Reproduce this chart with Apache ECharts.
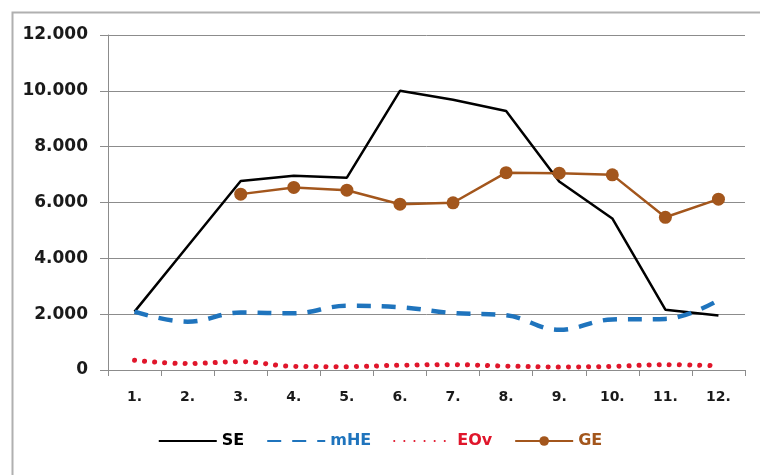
<!DOCTYPE html>
<html>
<head>
<meta charset="utf-8">
<script src="https://cdn.jsdelivr.net/npm/echarts@6/dist/echarts.min.js"></script>
<style>html,body{margin:0;padding:0;background:#fff}#c{width:760px;height:475px}</style>
</head>
<body>
<div id="c"></div>
<script>
var categories = ['1.', '2.', '3.', '4.', '5.', '6.', '7.', '8.', '9.', '10.', '11.', '12.'];
var seValues  = [2090, 4430, 6770, 6960, 6890, 10000, 9680, 9280, 6750, 5430, 2160, 1950];
var mheValues = [2090, 1730, 2060, 2030, 2300, 2250, 2040, 1960, 1440, 1810, 1830, 2500];
var eovValues = [350, 230, 300, 130, 120, 170, 190, 140, 110, 130, 190, 150];
var geValues  = [null, null, 6300, 6540, 6440, 5940, 5990, 7070, 7050, 6990, 5470, 6120];
var yTicks = [0, 2000, 4000, 6000, 8000, 10000, 12000];

var chart = echarts.init(document.getElementById('c'), null, {renderer: 'canvas'});
var font = 'DejaVu Sans';
function fmt(v) {
  if (v === 0) return '0';
  var s = String(v);
  return s.slice(0, s.length - 3) + '.' + s.slice(s.length - 3);
}
var hidden = {color: 'rgba(0,0,0,0)', borderWidth: 0};
chart.setOption({
  animation: false,
  backgroundColor: '#fff',
  graphic: [{
    type: 'rect', left: 10, top: 10, silent: true,
    shape: {width: 760, height: 480},
    style: {fill: 'none', stroke: '#b0b0b0', lineWidth: 2}
  }],
  grid: {left: 108, right: 15, top: 35, bottom: 105},
  legend: {
    bottom: 21, left: 'center',
    itemWidth: 58, itemHeight: 12, itemGap: 22,
    textStyle: {fontFamily: font, fontSize: 16, fontWeight: 'bold'},
    data: [
      {name: 'SE', textStyle: {color: '#000'}, itemStyle: hidden},
      {name: 'mHE', textStyle: {color: '#1f74bd'}, itemStyle: hidden},
      {name: 'EOv', textStyle: {color: '#e0162b'}, itemStyle: hidden},
      {name: 'GE', textStyle: {color: '#a3561c'}}
    ]
  },
  xAxis: {
    type: 'category', data: categories, boundaryGap: true,
    axisLine: {lineStyle: {color: '#8c8c8c', width: 1}},
    axisTick: {show: true, length: 6, lineStyle: {color: '#8c8c8c'}},
    axisLabel: {margin: 20, color: '#1a1a1a', fontFamily: font, fontSize: 14, fontWeight: 'bold'}
  },
  yAxis: {
    type: 'value', min: yTicks[0], max: yTicks[yTicks.length - 1], interval: 2000,
    axisLine: {show: true, lineStyle: {color: '#8c8c8c', width: 1}},
    axisTick: {show: true, length: 8, inside: false, lineStyle: {color: '#8c8c8c'}},
    splitLine: {lineStyle: {color: '#8c8c8c', width: 1}},
    axisLabel: {margin: 20, color: '#1a1a1a', fontFamily: font, fontSize: 17, fontWeight: 'bold', formatter: fmt}
  },
  series: [
    {name: 'SE', type: 'line', data: seValues, showSymbol: false, symbol: 'none',
     lineStyle: {color: '#000', width: 2.5}, itemStyle: {color: '#000'}},
    {name: 'mHE', type: 'line', data: mheValues, smooth: 0.4, showSymbol: false, symbol: 'none',
     lineStyle: {color: '#1f74bd', width: 4.5, type: [14, 11]}, itemStyle: {color: '#1f74bd'}},
    {name: 'EOv', type: 'line', data: eovValues, smooth: 0.4, showSymbol: false, symbol: 'none',
     lineStyle: {color: '#e0162b', width: 5, type: [0.1, 10], cap: 'round'}, itemStyle: {color: '#e0162b'}},
    {name: 'GE', type: 'line', data: geValues, symbol: 'circle', symbolSize: 13,
     lineStyle: {color: '#a3561c', width: 2.5}, itemStyle: {color: '#a3561c'}}
  ]
});
</script>
</body>
</html>
